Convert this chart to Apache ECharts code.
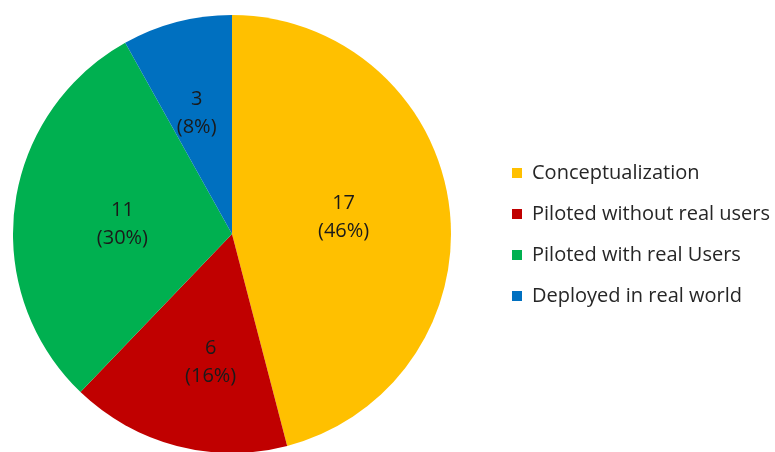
<!DOCTYPE html>
<html>
<head>
<meta charset="utf-8">
<script src="https://cdn.jsdelivr.net/npm/echarts@6/dist/echarts.min.js"></script>
<style>
  html, body { margin: 0; padding: 0; background: #fff; }
  #chart { width: 775px; height: 452px; }
</style>
</head>
<body>
<div id="chart"></div>
<script>
  var categories = ['Conceptualization', 'Piloted without real users', 'Piloted with real Users', 'Deployed in real world']
  var counts = [17, 6, 11, 3]
  var colors = ['#FFC000', '#C00000', '#00B050', '#0070C0']

  var chart = echarts.init(document.getElementById('chart'))

  // narrow slices get their labels nudged outward a bit, like the original
  var labelNudge = [[0, -2], [7, 19], [2, 5], [-7, -12]]

  var pieData = categories.map(function (name, i) {
    return {
      name: name,
      value: counts[i],
      itemStyle: { color: colors[i] },
      label: { offset: labelNudge[i] }
    }
  })

  chart.setOption({
    animation: false,
    legend: {
      orient: 'vertical',
      left: 507,
      top: 158,
      itemWidth: 10,
      itemHeight: 10,
      itemGap: 21,
      icon: 'rect',
      data: categories,
      textStyle: {
        fontFamily: 'Open Sans',
        fontSize: 20,
        color: '#262626',
        padding: [0, 0, 0, 5]
      }
    },
    series: [{
      type: 'pie',
      center: [232, 234],
      radius: 219,
      startAngle: 90,
      clockwise: true,
      percentPrecision: 0,
      data: pieData,
      label: {
        position: 'inner',
        formatter: '{c}\n({d}%)',
        fontFamily: 'Open Sans',
        fontSize: 20,
        lineHeight: 28,
        color: '#1a1a1a'
      },
      labelLine: { show: false },
      emphasis: { disabled: true }
    }]
  })
</script>
</body>
</html>
